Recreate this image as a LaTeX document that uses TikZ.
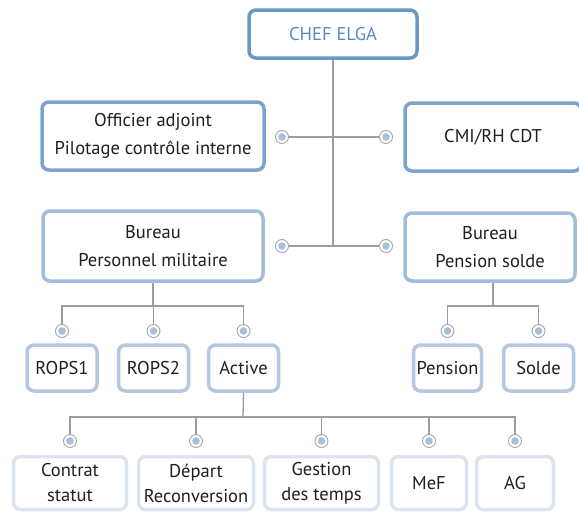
\documentclass[tikz,border=0pt]{standalone}
\usepackage{fontspec}
\setmainfont{PT Sans}
\usetikzlibrary{shadows}
\definecolor{chefblue}{HTML}{6B97C4}
\definecolor{chefText}{HTML}{5A8BBF}
\definecolor{lvlone}{HTML}{7EA3CB}
\definecolor{lvltwo}{HTML}{A3BCDA}
\definecolor{lvlthree}{HTML}{B4C8E1}
\definecolor{lvlfour}{HTML}{DCE4EF}
\definecolor{linkgray}{HTML}{9C9C9C}
\definecolor{dotblue}{HTML}{A7C0DE}

\begin{document}
\begin{tikzpicture}[x=1pt,y=-1pt,
    box/.style={draw, rounded corners=7pt, fill=white, line width=3.5pt,
      inner sep=0pt, align=center, text=black!88,
      font=\fontsize{18.5}{28}\selectfont,
      drop shadow={opacity=.12, shadow xshift=1pt, shadow yshift=-1.5pt}},
    small/.style={font=\fontsize{18.5}{25}\selectfont},
    link/.style={draw=linkgray, line width=1.3pt},
    dot/.style={circle, draw=linkgray!90, line width=.9pt, fill=white,
      inner sep=0pt, minimum size=13pt,
      path picture={\fill[dotblue] (path picture bounding box.center) circle (3.8pt);}}]
  \useasboundingbox (0,0) rectangle (579,512);

  % top
  \node[box, draw=chefblue, text=chefText, minimum width=168pt, minimum height=48pt] (chef) at (333,34) {CHEF ELGA};

  % first level
  \node[box, draw=lvlone, minimum width=222pt, minimum height=68pt] (off) at (153,136) {Officier adjoint\\Pilotage contrôle interne};
  \node[box, draw=lvlone, minimum width=176pt, minimum height=68pt] (cmi) at (493,137) {CMI/RH CDT};
  \node[box, draw=lvltwo, minimum width=220pt, minimum height=70pt] (bpm) at (153,246) {Bureau\\Personnel militaire};
  \node[box, draw=lvltwo, minimum width=170pt, minimum height=68pt] (bps) at (490,247) {Bureau\\Pension solde};

  \node[dot] (offdot) at (282,137) {};
  \node[dot] (cmidot) at (386,137) {};
  \node[dot] (bpmdot) at (282,246) {};
  \node[dot] (bpsdot) at (386,246) {};

  \draw[link] (chef.south) -- (chef.south |- bpmdot);
  \foreach \d in {offdot,bpmdot}
    \draw[link] (\d.east) -- (\d -| chef.south);
  \foreach \d in {cmidot,bpsdot}
    \draw[link] (\d.west) -- (\d -| chef.south);

  % second level
  \node[box, draw=lvlthree, minimum width=70pt, minimum height=46pt] (rops1) at (62,368) {ROPS1};
  \node[box, draw=lvlthree, minimum width=70pt, minimum height=46pt] (rops2) at (153.5,368) {ROPS2};
  \node[box, draw=lvlthree, minimum width=70pt, minimum height=46pt] (act) at (243.5,368) {Active};
  \node[box, draw=lvlthree, minimum width=68pt, minimum height=46pt] (pen) at (447.5,368) {Pension};
  \node[box, draw=lvlthree, minimum width=70pt, minimum height=46pt] (sol) at (538.5,368) {Solde};

  \foreach \n in {rops1,rops2,act,pen,sol}
    \node[dot] (\n dot) at (\n.north |- 0,331) {};

  \coordinate (bpmfork) at (153,306);
  \coordinate (bpsfork) at (493,306);
  \draw[link] (bpm.south) -- (bpmfork);
  \draw[link] (bpsfork |- bps.south) -- (bpsfork);
  \foreach \n in {rops1,rops2,act}
    \draw[link] (\n dot.north) |- (bpmfork);
  \foreach \n in {pen,sol}
    \draw[link] (\n dot.north) |- (bpsfork);

  % third level
  \node[box, small, draw=lvlfour, minimum width=113pt, minimum height=53pt] (ct) at (70,483) {Contrat\\statut};
  \node[box, small, draw=lvlfour, minimum width=115pt, minimum height=53pt] (dp) at (196,483) {Départ\\Reconversion};
  \node[box, small, draw=lvlfour, minimum width=114pt, minimum height=53pt] (gt) at (321.5,483) {Gestion\\des temps};
  \node[box, small, draw=lvlfour, minimum width=75pt, minimum height=53pt] (mef) at (429,483) {MeF};
  \node[box, small, draw=lvlfour, minimum width=77pt, minimum height=53pt] (ag) at (515,483) {AG};

  \foreach \n in {ct,dp,gt,mef,ag}
    \node[dot] (\n dot) at (\n.north |- 0,441) {};

  \coordinate (actfork) at (243,417);
  \draw[link] (act.south) -- (actfork);
  \foreach \n in {ct,dp,gt,mef,ag}
    \draw[link] (\n dot.north) |- (actfork);
\end{tikzpicture}
\end{document}
